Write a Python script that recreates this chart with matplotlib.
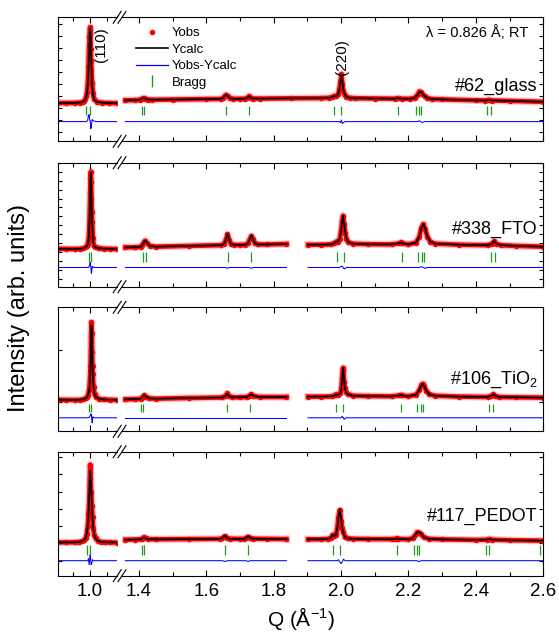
import numpy as np
import matplotlib
matplotlib.use('Agg')
import matplotlib.pyplot as plt
from matplotlib.lines import Line2D
from matplotlib.ticker import MultipleLocator

plt.rcParams['font.family'] = ['Liberation Sans', 'DejaVu Sans']
plt.rcParams['mathtext.fontset'] = 'custom'
plt.rcParams['mathtext.rm'] = 'Liberation Sans'

#__DATA_READ_FROM_THE_FIGURE__##################################################
# Q in 1/A, intensities in arbitrary units, diff = Yobs - Ycalc

samples = ['#62_glass', '#338_FTO', '#106_TiO$\\mathregular{_2}$', '#117_PEDOT']

# panel 1 : #62_glass
q1L = [0.905, 0.930, 0.955, 0.970, 0.978, 0.983, 0.986, 0.989, 0.991, 0.993,
       0.995, 0.997, 0.998, 0.999, 1.000, 1.001, 1.002, 1.003, 1.004, 1.006,
       1.008, 1.012, 1.020, 1.035, 1.055, 1.080]
c1L = [38.4, 38.3, 38.4, 38.8, 39.5, 40.5, 42.0, 45.0, 49.0, 56.0,
       68.0, 88.0, 100.0, 110.0, 113.0, 110.0, 99.0, 86.0, 74.0, 56.0,
       47.0, 41.5, 39.5, 38.6, 38.3, 38.2]
d1L = [0, 0, 0, 0, 0, 0, 0, 0, 0.5, 2,
       6, 7, 4, 1, 1, -3, -7, -6, -3, 2,
       1, 0.5, 0, 0, 0, 0]
q1R = [1.360, 1.390, 1.402, 1.408, 1.414, 1.419, 1.426, 1.440, 1.500, 1.600,
       1.643, 1.650, 1.655, 1.659, 1.664, 1.670, 1.680, 1.700, 1.715, 1.722,
       1.727, 1.732, 1.740, 1.760, 1.850, 1.940, 1.965, 1.973, 1.979, 1.985,
       1.991, 1.995, 1.998, 2.001, 2.004, 2.007, 2.011, 2.016, 2.025, 2.040,
       2.100, 2.160, 2.170, 2.180, 2.205, 2.218, 2.226, 2.232, 2.236, 2.241,
       2.248, 2.256, 2.270, 2.300, 2.400, 2.428, 2.438, 2.448, 2.500, 2.600]
c1R = [41.0, 41.2, 41.5, 42.6, 43.2, 42.8, 41.8, 41.6, 41.8, 42.2,
       42.4, 43.5, 45.5, 46.5, 45.0, 43.0, 42.5, 42.5, 42.6, 43.5,
       45.0, 43.5, 42.8, 42.7, 43.0, 43.2, 43.5, 44.3, 45.3, 45.0,
       47.0, 52.0, 60.0, 65.5, 59.0, 51.0, 46.5, 44.5, 43.5, 43.1,
       42.8, 42.6, 43.2, 42.6, 42.5, 43.5, 46.0, 49.0, 49.5, 48.0,
       45.0, 43.2, 42.3, 41.9, 41.0, 40.8, 41.5, 40.8, 40.4, 39.5]
d1R = [0, 0, 0, 0, 0, 0, 0, 0, 0, 0,
       0, 0, 0, 0, 0, 0, 0, 0, 0, 0,
       0, 0, 0, 0, 0, 0, 0, 0, 0, 0,
       0, 0, -1, 1.5, -2, -1, 0, 0, 0, 0,
       0, 0, 0, 0, 0, 0, 0, 0.8, 0, -0.8,
       0, 0, 0, 0, 0, 0, 0, 0, 0, 0]
b1 = [0.989, 0.999, 1.408, 1.415, 1.658, 1.727, 1.980, 2.001, 2.170, 2.221,
      2.232, 2.238, 2.434, 2.445, 2.598]

# panel 2 : #338_FTO
q2L = [0.905, 0.930, 0.955, 0.970, 0.980, 0.986, 0.990, 0.993, 0.995, 0.997,
       0.999, 1.000, 1.001, 1.002, 1.003, 1.004, 1.005, 1.006, 1.008, 1.011,
       1.016, 1.025, 1.040, 1.060, 1.080]
c2L = [38.0, 37.8, 37.7, 37.9, 38.4, 39.2, 40.5, 42.5, 45.5, 54.0,
       74.0, 90.0, 106.0, 114.0, 108.0, 94.0, 78.0, 64.0, 48.0, 41.0,
       39.3, 38.5, 38.0, 37.8, 37.7]
d2L = [0, 0, 0, 0, 0, 0, 0, 0, 0, 1,
       3, 5, 3, 1, -3, -6, -3, 1, 0.5, 0,
       0, 0, 0, 0, 0]
q2A = [1.360, 1.390, 1.405, 1.410, 1.415, 1.419, 1.424, 1.432, 1.450, 1.550,
       1.645, 1.653, 1.658, 1.663, 1.668, 1.673, 1.682, 1.700, 1.716, 1.724,
       1.729, 1.734, 1.739, 1.744, 1.753, 1.780, 1.838]
c2A = [39.3, 39.5, 39.8, 41.5, 44.5, 46.0, 44.0, 41.0, 40.0, 40.8,
       41.5, 43.0, 47.0, 53.0, 47.0, 43.0, 41.8, 41.8, 42.0, 43.5,
       47.5, 51.5, 47.5, 43.5, 42.2, 42.3, 42.7]
d2A = [0, 0, 0, 0, 0, 0, 0, 0, 0, 0,
       0, 0, 0, -0.8, 0, 0, 0, 0, 0, 0,
       0, -0.8, 0, 0, 0, 0, 0]
q2B = [1.902, 1.940, 1.970, 1.980, 1.985, 1.990, 1.996, 2.000, 2.003, 2.006,
       2.009, 2.012, 2.016, 2.022, 2.035, 2.080, 2.150, 2.172, 2.177, 2.182,
       2.200, 2.222, 2.232, 2.238, 2.244, 2.250, 2.256, 2.265, 2.280, 2.350,
       2.435, 2.447, 2.454, 2.461, 2.475, 2.520, 2.600]
c2B = [42.0, 42.0, 42.3, 43.5, 45.0, 45.0, 48.0, 55.0, 64.0, 71.0,
       64.0, 55.0, 48.0, 44.5, 43.0, 42.5, 42.3, 43.3, 44.2, 43.3,
       42.4, 44.0, 50.0, 58.0, 62.5, 58.0, 50.0, 45.0, 43.0, 42.0,
       41.5, 43.0, 45.5, 43.0, 41.5, 40.8, 40.0]
d2B = [0, 0, 0, 0, 0, 0, 0, 1, 1.5, 0,
       -1.5, -1, 0, 0, 0, 0, 0, 0, 0, 0,
       0, 0, 0, 0.8, 0, -0.8, 0, 0, 0, 0,
       0, 0, 0, 0, 0, 0, 0]
b2 = [0.996, 1.004, 1.413, 1.420, 1.665, 1.734, 1.988, 2.008, 2.180, 2.229,
      2.239, 2.246, 2.445, 2.456]

# panel 3 : #106_TiO2
q3L = [0.905, 0.930, 0.955, 0.970, 0.980, 0.987, 0.991, 0.994, 0.997, 0.999,
       1.001, 1.002, 1.003, 1.004, 1.005, 1.006, 1.007, 1.008, 1.010, 1.013,
       1.018, 1.027, 1.040, 1.060, 1.080]
c3L = [31.6, 31.4, 31.3, 31.5, 32.0, 33.0, 34.5, 36.5, 41.0, 48.0,
       62.0, 76.0, 92.0, 106.0, 100.0, 84.0, 68.0, 56.0, 44.0, 37.0,
       34.0, 32.5, 31.8, 31.5, 31.3]
d3L = [0, 0, 0, 0, 0, 0, 0, 0, 0.5, 1,
       3, 4, 3, 3, -2, -5, -3, 1, 0.5, 0,
       0, 0, 0, 0, 0]
q3A = [1.360, 1.390, 1.405, 1.411, 1.416, 1.422, 1.430, 1.450, 1.550, 1.648,
       1.656, 1.662, 1.668, 1.676, 1.700, 1.720, 1.727, 1.733, 1.740, 1.760,
       1.838]
c3A = [32.0, 32.2, 32.5, 34.5, 36.0, 34.5, 33.0, 32.6, 33.3, 33.8,
       35.0, 37.8, 35.0, 34.0, 34.0, 34.2, 35.3, 37.0, 35.3, 34.3,
       34.3]
d3A = [0, 0, 0, 0, 0, 0, 0, 0, 0, 0,
       0, 0, 0, 0, 0, 0, 0, 0, 0, 0,
       0]
q3B = [1.902, 1.940, 1.972, 1.981, 1.986, 1.991, 1.998, 2.001, 2.003, 2.005,
       2.006, 2.007, 2.009, 2.011, 2.014, 2.020, 2.035, 2.080, 2.150, 2.172,
       2.177, 2.182, 2.200, 2.222, 2.232, 2.238, 2.242, 2.247, 2.253, 2.262,
       2.280, 2.350, 2.435, 2.446, 2.452, 2.458, 2.470, 2.520, 2.600]
c3B = [34.7, 34.7, 34.9, 35.8, 36.8, 36.5, 38.0, 43.0, 52.0, 60.0,
       63.5, 60.0, 51.0, 44.0, 39.5, 37.0, 35.6, 35.2, 35.0, 35.8,
       36.3, 35.8, 35.1, 36.5, 41.0, 46.0, 47.5, 45.0, 40.5, 37.0,
       35.5, 34.7, 34.3, 35.5, 37.0, 35.5, 34.2, 34.0, 33.7]
d3B = [0, 0, 0, 0, 0, 0, 0, 0, 1.5, 1,
       0, 0, -1.5, -1, 0, 0, 0, 0, 0, 0,
       0, 0, 0, 0, 0, 0, 0, 0, 0, 0,
       0, 0, 0, 0, 0, 0, 0, 0, 0]
b3 = [0.996, 1.004, 1.405, 1.412, 1.662, 1.731, 1.986, 2.006, 2.177, 2.224,
      2.236, 2.242, 2.439, 2.451]

# panel 4 : #117_PEDOT
q4L = [0.905, 0.930, 0.955, 0.968, 0.977, 0.983, 0.987, 0.990, 0.993, 0.995,
       0.997, 0.999, 1.000, 1.001, 1.003, 1.005, 1.007, 1.009, 1.012, 1.016,
       1.022, 1.032, 1.045, 1.060, 1.080]
c4L = [33.4, 33.3, 33.4, 33.8, 34.6, 36.0, 38.0, 42.0, 50.0, 60.0,
       76.0, 96.0, 105.0, 100.0, 88.0, 72.0, 58.0, 48.0, 41.0, 37.5,
       35.0, 33.8, 33.5, 33.3, 33.2]
d4L = [0, 0, 0, 0, 0, 0, 0, 0, 0, 2,
       -4, 2, 6, 4, -4, -2, 1, 0, 0, 0,
       0, 0, 0, 0, 0]
q4A = [1.360, 1.390, 1.405, 1.410, 1.415, 1.420, 1.428, 1.450, 1.550, 1.640,
       1.648, 1.655, 1.662, 1.670, 1.700, 1.712, 1.719, 1.724, 1.730, 1.740,
       1.780, 1.838]
c4A = [36.0, 36.2, 36.4, 37.2, 38.4, 37.5, 36.6, 36.4, 36.6, 36.8,
       37.8, 40.2, 37.8, 36.9, 36.8, 36.9, 38.0, 39.7, 38.0, 37.0,
       36.8, 36.6]
d4A = [0, 0, 0, 0, 0, 0, 0, 0, 0, 0,
       0, -0.8, 0, 0, 0, 0, 0, -0.8, 0, 0,
       0, 0]
q4B = [1.902, 1.940, 1.962, 1.970, 1.975, 1.980, 1.985, 1.989, 1.992, 1.996,
       2.000, 2.003, 2.007, 2.012, 2.020, 2.035, 2.080, 2.150, 2.160, 2.165,
       2.170, 2.200, 2.212, 2.220, 2.226, 2.231, 2.237, 2.245, 2.260, 2.300,
       2.400, 2.432, 2.440, 2.448, 2.500, 2.600]
c4B = [36.4, 36.4, 36.8, 38.2, 41.0, 39.5, 41.0, 48.0, 57.0, 66.5,
       58.0, 49.0, 42.0, 38.6, 37.4, 36.9, 36.6, 36.5, 36.8, 37.4,
       36.8, 36.4, 37.5, 40.5, 43.5, 44.2, 42.0, 38.5, 36.9, 36.3,
       35.8, 36.0, 36.8, 36.0, 35.5, 35.0]
d4B = [0, 0, 0, 0, 0, 0, 0, 0, 1, -1,
       -3, -1.5, 1.5, 0, 0, 0, 0, 0, 0, 0,
       0, 0, 0, 0, 0, -1, 0, 0, 0, 0,
       0, 0, 0, 0, 0, 0]
b4 = [0.990, 1.000, 1.408, 1.415, 1.655, 1.724, 1.977, 1.996, 2.165, 2.216,
      2.226, 2.231, 2.430, 2.439, 2.590]

panels = [
    dict(left=(q1L, c1L, d1L), right=[(q1R, c1R, d1R)], bragg=b1),
    dict(left=(q2L, c2L, d2L), right=[(q2A, c2A, d2A), (q2B, c2B, d2B)], bragg=b2),
    dict(left=(q3L, c3L, d3L), right=[(q3A, c3A, d3A), (q3B, c3B, d3B)], bragg=b3),
    dict(left=(q4L, c4L, d4L), right=[(q4A, c4A, d4A), (q4B, c4B, d4B)], bragg=b4),
]

#__LAYOUT_AND_STYLE__##########################################################

W, H = 559, 632
top_px = [17.3, 162.7, 307.3, 451.7]
panel_h = 124.0
xL0, xL1 = 58.0, 117.2
xR0, xR1 = 122.0, 543.3
qlimL = (0.905, 1.08)
qlimR = (1.35, 2.6)

diff_off = [19.7, 19.2, 13.5, 15.0]
tick_lo = [26.7, 24.3, 19.0, 21.0]
tick_hi = [35.7, 35.0, 27.5, 30.5]
ytick_step = [12.0, 8.9, 52.0, 17.3]
ytick_off = [9.7, 8.0, 29.0, 15.0]
label_y = [55.0, 57.7, 51.7, 59.7]

red = '#ff0000'
green = '#1f9a1f'
blue = '#0000ff'


def px_rect(x0, x1, top):
    return [x0 / W, 1 - (top + panel_h) / H, (x1 - x0) / W, panel_h / H]


def draw(ax, q, calc, diff, k):
    q = np.asarray(q)
    calc = np.asarray(calc)
    diff = np.asarray(diff)
    obs = calc + diff
    ax.plot(q, obs, color='#ff5050', lw=5.2, alpha=0.35, zorder=1)
    ax.plot(q, obs, color=red, lw=3.3, zorder=1)
    ax.plot(q, obs, 'o', color=red, ms=4.0, mew=0, zorder=2)
    ax.plot(q, calc, color='black', lw=1.2, zorder=3)
    ax.plot(q, diff + diff_off[k], color=blue, lw=0.75, zorder=2)


fig = plt.figure(figsize=(W / 100, H / 100), dpi=100)

for k, p in enumerate(panels):
    axL = fig.add_axes(px_rect(xL0, xL1, top_px[k]))
    axR = fig.add_axes(px_rect(xR0, xR1, top_px[k]))

    draw(axL, *p['left'], k)
    for seg in p['right']:
        draw(axR, *seg, k)
    for ax in (axL, axR):
        ax.vlines(p['bragg'], tick_lo[k], tick_hi[k], colors=green, lw=0.9, zorder=2)
        ax.set_ylim(0, panel_h)
        ax.yaxis.set_major_locator(MultipleLocator(ytick_step[k], offset=ytick_off[k]))
        ax.tick_params(axis='both', which='both', direction='in', width=0.8,
                       top=True, bottom=True, labelsize=13.5, pad=5)
        ax.tick_params(axis='x', which='major', length=4.5)
        ax.tick_params(axis='x', which='minor', length=3)
        ax.tick_params(axis='y', length=3, labelleft=False, labelright=False)
        for s in ax.spines.values():
            s.set_linewidth(0.8)
        if k < 3:
            ax.tick_params(axis='x', labelbottom=False)

    axL.set_xlim(*qlimL)
    axL.xaxis.set_major_locator(MultipleLocator(0.1))
    axL.xaxis.set_minor_locator(MultipleLocator(0.05))
    axL.spines['right'].set_visible(False)
    axL.tick_params(axis='y', left=True, right=False)

    axR.set_xlim(*qlimR)
    axR.xaxis.set_major_locator(MultipleLocator(0.2))
    axR.xaxis.set_minor_locator(MultipleLocator(0.1))
    axR.spines['left'].set_visible(False)
    axR.tick_params(axis='y', left=False, right=True)

    axR.text(0.987, label_y[k] / panel_h, samples[k], transform=axR.transAxes,
             ha='right', va='center', fontsize=13)

    # break marks
    for ypx in (top_px[k], top_px[k] + panel_h):
        for xc in (xL1, xR0):
            fig.add_artist(Line2D([(xc - 4) / W, (xc + 4) / W],
                                  [1 - (ypx + 6) / H, 1 - (ypx - 6) / H],
                                  color='black', lw=0.8))

    if k == 0:
        axL.text(1.033, 96.7, '(110)', rotation=90, ha='center', va='center', fontsize=11)
        axR.text(2.002, 84.0, '(220)', rotation=90, ha='center', va='center', fontsize=11)
        axR.text(0.964, 108.7 / panel_h, 'λ = 0.826 Å; RT', transform=axR.transAxes,
                 ha='right', va='center', fontsize=10.5)
        handles = [
            Line2D([], [], ls='none', marker='o', ms=4.0, mew=0, color=red),
            Line2D([], [], color='black', lw=1.2),
            Line2D([], [], color=blue, lw=0.9),
            Line2D([], [], ls='none', marker='|', ms=8, mew=1, color=green),
        ]
        axR.legend(handles, ['Yobs', 'Ycalc', 'Yobs-Ycalc', 'Bragg'],
                   loc='upper left', bbox_to_anchor=(136.0 / W, 1 - 27.0 / H),
                   bbox_transform=fig.transFigure, frameon=False, fontsize=9.5,
                   handlelength=2.4, handletextpad=0.3, labelspacing=0.32,
                   borderpad=0, borderaxespad=0, numpoints=1)

fig.text(19 / W, 1 - 308 / H, 'Intensity (arb. units)', rotation=90,
         ha='center', va='center', fontsize=17)
fig.text(300.5 / W, 1 - 618 / H, 'Q (Å$\\mathregular{^{-1}}$)',
         ha='center', va='center', fontsize=15)

plt.savefig('out.png', dpi=100)
